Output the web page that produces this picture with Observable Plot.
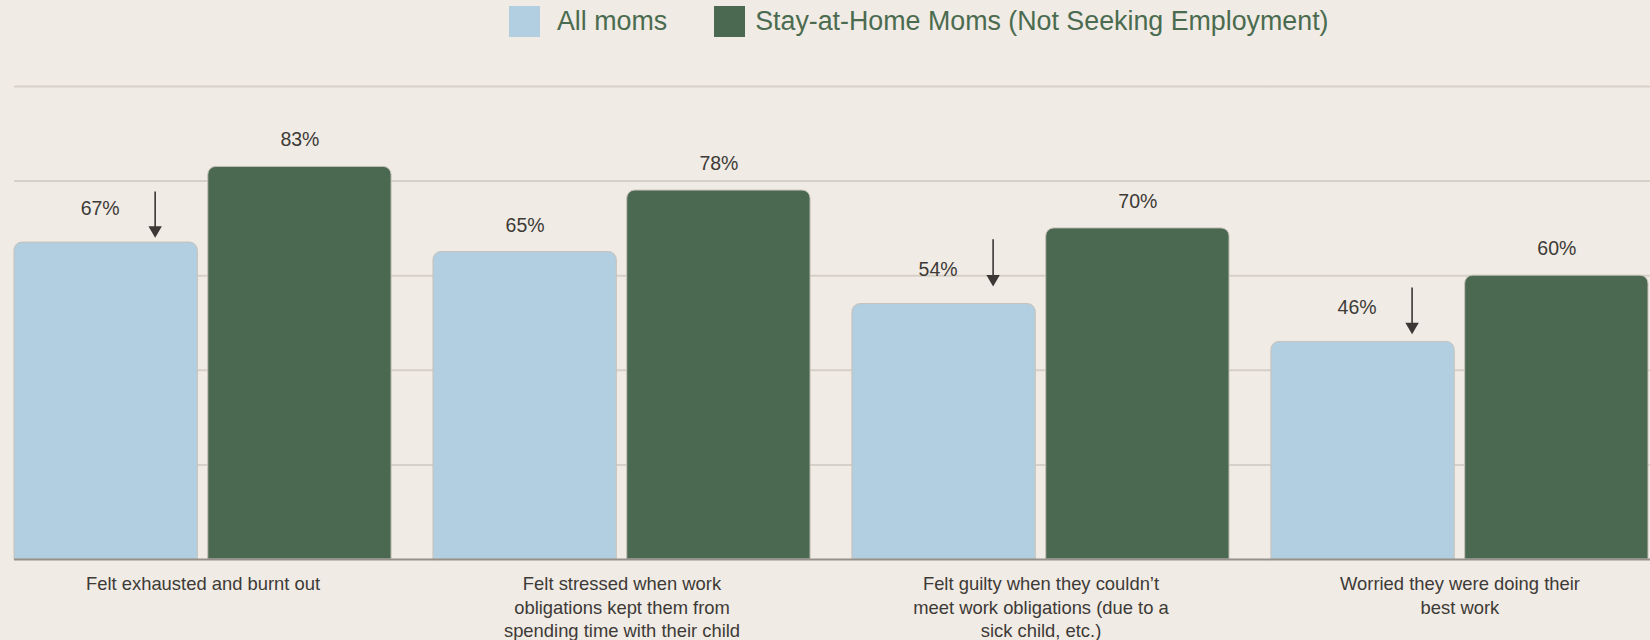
<!DOCTYPE html>
<html><head><meta charset="utf-8">
<script src="https://cdn.jsdelivr.net/npm/d3@7"></script>
<script src="https://cdn.jsdelivr.net/npm/@observablehq/plot@0.6"></script>
<style>
html,body{margin:0;padding:0;background:#f0ebe4;}
body{width:1650px;height:640px;overflow:hidden;font-family:"Liberation Sans",Arial,sans-serif;}
#legend{height:42px;display:flex;align-items:center;padding-left:509px;font-size:26.8px;color:#4b6b50;}
.item{display:flex;align-items:center;margin-right:47px;}
.sw{width:31px;height:31px;margin-right:17px;}
.item + .item .sw{margin-right:10px;}
#chart svg{display:block;}
</style></head><body>
<div id="legend"></div>
<div id="chart"></div>
<script>
const categories = ["exhausted", "stressed", "guilty", "worried"];
const categoryLabels = [
  "Felt exhausted and burnt out",
  "Felt stressed when work\nobligations kept them from\nspending time with their child",
  "Felt guilty when they couldn’t\nmeet work obligations (due to a\nsick child, etc.)",
  "Worried they were doing their\nbest work"
];
const seriesNames = ["All moms", "Stay-at-Home Moms (Not Seeking Employment)"];
const seriesColors = ["#b1cfe0", "#4a6950"];
const allMoms = [67, 65, 54, 46];
const stayAtHomeMoms = [83, 78, 70, 60];
const arrowCategories = ["exhausted", "guilty", "worried"];
const arrowFrom = [77.7, 67.6, 57.4];
const arrowTo = [68.8, 58.5, 48.4];
const gridTicks = [20, 40, 60, 80, 100];

const rows = [];
categories.forEach((c, i) => {
  rows.push({category: c, series: seriesNames[0], value: allMoms[i]});
  rows.push({category: c, series: seriesNames[1], value: stayAtHomeMoms[i]});
});
const arrows = arrowCategories.map((c, i) => ({category: c, series: seriesNames[0], from: arrowFrom[i], to: arrowTo[i]}));

// legend
const legend = document.getElementById("legend");
seriesNames.forEach((s, i) => {
  const it = document.createElement("div");
  it.className = "item";
  const sw = document.createElement("div");
  sw.className = "sw";
  sw.style.background = seriesColors[i];
  const tx = document.createElement("span");
  tx.textContent = s;
  it.append(sw, tx);
  legend.append(it);
});

const textColor = "#3d3a37";
const chart = Plot.plot({
  width: 1650,
  height: 598,
  marginLeft: 14,
  marginRight: 2,
  marginTop: 44,
  marginBottom: 81,
  style: {background: "transparent", fontFamily: "'Liberation Sans', Arial, sans-serif"},
  fx: {domain: categories, paddingInner: 0.1, paddingOuter: 0, round: false, axis: null, label: null},
  x: {domain: seriesNames, paddingInner: 0.054, paddingOuter: 0, round: false, axis: null, label: null},
  y: {domain: [0, 100], axis: null},
  color: {domain: seriesNames, range: seriesColors},
  marks: [
    Plot.ruleY(gridTicks, {y: d => d, stroke: "#d5d0c8", strokeWidth: 2, insetRight: -42}),
    Plot.barY(rows, {fx: "category", x: "series", y: "value", fill: "series", stroke: "#c6c1b9", strokeWidth: 1, ry1: 8}),
    Plot.ruleY([0], {stroke: "#96928b", strokeWidth: 2, insetRight: -42}),
    Plot.text(rows.filter(d => d.series === seriesNames[1]), {fx: "category", x: "series", y: "value", text: d => d.value + "%", dy: -27, fontSize: 19.5, fill: textColor}),
    Plot.text(rows.filter(d => d.series === seriesNames[0] && arrowCategories.includes(d.category)), {fx: "category", x: "series", y: "value", text: d => d.value + "%", dx: -6, dy: -34, fontSize: 19.5, fill: textColor}),
    Plot.text(rows.filter(d => d.series === seriesNames[0] && !arrowCategories.includes(d.category)), {fx: "category", x: "series", y: "value", text: d => d.value + "%", dy: -26, fontSize: 19.5, fill: textColor}),
    Plot.ruleX(arrows, {fx: "category", x: "series", y1: "from", y2: "to", dx: 49, stroke: "#3a3734", strokeWidth: 1.6}),
    Plot.dot(arrows, {fx: "category", x: "series", y: "to", dx: 49, dy: -4, symbol: "triangle", rotate: 180, r: 5, fill: "#3a3734", stroke: "none"}),
    Plot.text(categories, {fx: d => d, text: (d, i) => categoryLabels[i], frameAnchor: "bottom", lineAnchor: "top", dy: 14, lineHeight: 1.28, fontSize: 18.4, fill: textColor})
  ]
});
document.getElementById("chart").append(chart);
</script>
</body></html>
